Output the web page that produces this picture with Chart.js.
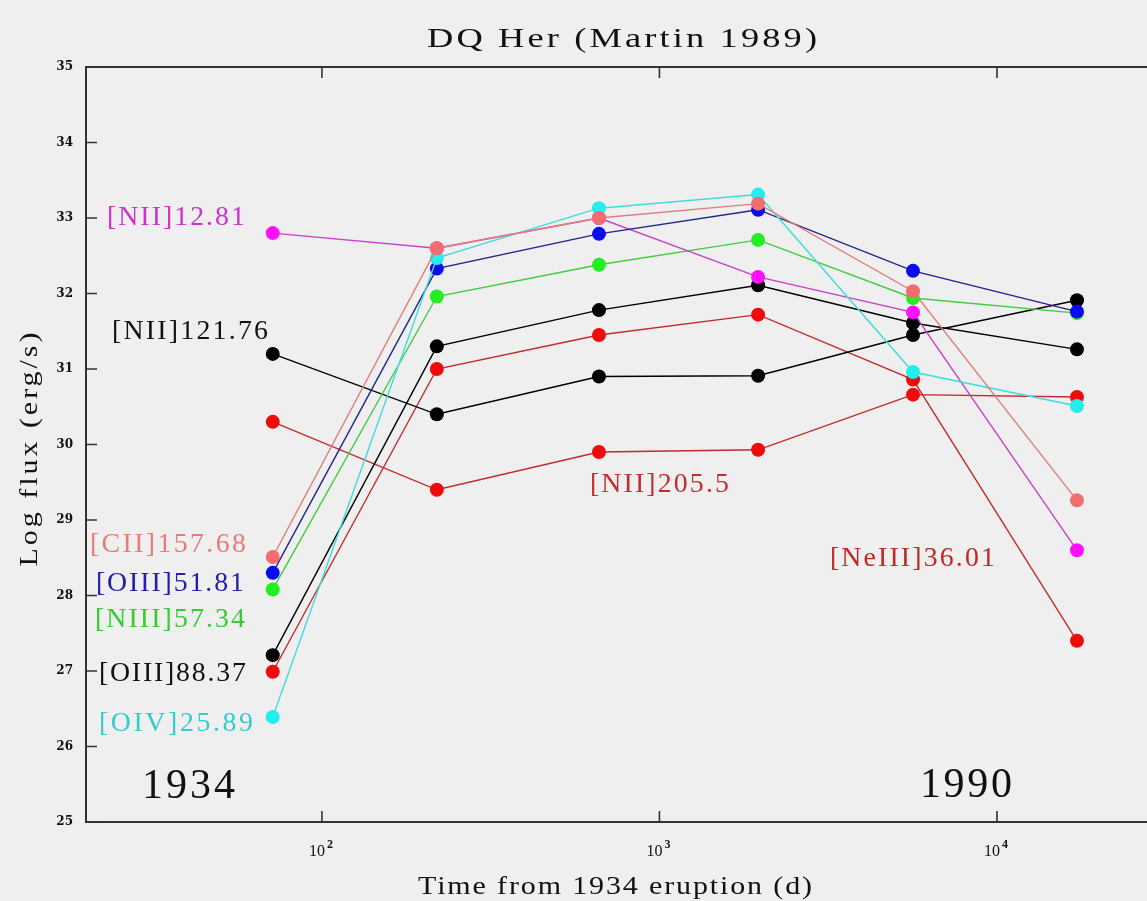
<!DOCTYPE html>
<html>
<head>
<meta charset="utf-8">
<script src="https://cdn.jsdelivr.net/npm/chart.js@4.4.1/dist/chart.umd.min.js"></script>
<style>
  html, body { margin: 0; padding: 0; background: #efefef; overflow: hidden; }
  #wrap { width: 1165px; height: 901px; }
</style>
</head>
<body>
<div id="wrap"><canvas id="fluxChart"></canvas></div>
<script>
// days after the 1934 eruption
const days = [71.5, 219, 662, 1960, 5640, 17260];

// log flux (erg/s) for each line
const cii15768 = [28.51, 32.60, 33.00, 33.19, 32.03, 29.26];
const oiv2589 = [26.39, 32.47, 33.13, 33.31, 30.96, 30.51];
const oiii5181 = [28.30, 32.33, 32.79, 33.11, 32.30, 31.76];
const nii1281 = [32.80, 32.60, 33.00, 32.22, 31.75, 28.60];
const niii5734 = [28.08, 31.96, 32.38, 32.71, 31.94, 31.74];
const oiii8837 = [27.21, 31.30, 31.78, 32.11, 31.61, 31.26];
const nii12176 = [31.20, 30.40, 30.90, 30.91, 31.45, 31.91];
const neiii3601 = [26.99, 31.00, 31.45, 31.72, 30.86, 27.40];
const nii2055 = [30.30, 29.40, 29.90, 29.93, 30.66, 30.63];

const xTicks = [100, 1000, 10000];
const yTicks = [25, 26, 27, 28, 29, 30, 31, 32, 33, 34, 35];

const series = [
  { name: '[CII]157.68', values: cii15768, line: '#e07c7c', dot: '#f26e6e' },
  { name: '[OIV]25.89', values: oiv2589, line: '#3fdcdc', dot: '#22eeee' },
  { name: '[OIII]51.81', values: oiii5181, line: '#23238c', dot: '#0a0aee' },
  { name: '[NII]12.81', values: nii1281, line: '#c840c8', dot: '#ff10ff' },
  { name: '[NIII]57.34', values: niii5734, line: '#40cc40', dot: '#22ee22' },
  { name: '[OIII]88.37', values: oiii8837, line: '#000000', dot: '#000000' },
  { name: '[NII]121.76', values: nii12176, line: '#000000', dot: '#000000' },
  { name: '[NeIII]36.01', values: neiii3601, line: '#c02c2c', dot: '#ee0b0b' },
  { name: '[NII]205.5', values: nii2055, line: '#c02c2c', dot: '#ee0b0b' }
];

// text notes placed in data units (days, log flux)
const notes = [
  { text: '[NII]12.81', x: 23.07, y: 32.91, w: 138, color: '#cc33cc' },
  { text: '[NII]121.76', x: 23.87, y: 31.40, w: 156, color: '#111111' },
  { text: '[CII]157.68', x: 20.54, y: 28.58, w: 156, color: '#e87a7a' },
  { text: '[OIII]51.81', x: 21.40, y: 28.06, w: 148, color: '#2020a8' },
  { text: '[NIII]57.34', x: 21.26, y: 27.58, w: 150, color: '#33cc33' },
  { text: '[OIII]88.37', x: 21.84, y: 26.87, w: 147, color: '#111111' },
  { text: '[OIV]25.89', x: 21.84, y: 26.21, w: 154, color: '#33cccc' },
  { text: '[NII]205.5', x: 622.3, y: 29.37, w: 139, color: '#c03030' },
  { text: '[NeIII]36.01', x: 3199, y: 28.39, w: 165, color: '#c02828' },
  { text: '1934', x: 29.29, y: 25.32, w: 93, color: '#111111', big: true },
  { text: '1990', x: 5913, y: 25.33, w: 92, color: '#111111', big: true }
];

const serif = '"Liberation Serif", "Times New Roman", serif';

// draws text so that it spans the given width, with optional horizontal stretch
function fitText(ctx, text, x, y, width, font, color, sx = 1) {
  ctx.save();
  ctx.font = font;
  ctx.letterSpacing = '0px';
  const natural = ctx.measureText(text).width;
  const gap = text.length > 1 ? (width / sx - natural) / (text.length - 1) : 0;
  ctx.letterSpacing = gap + 'px';
  ctx.fillStyle = color;
  ctx.textAlign = 'left';
  ctx.textBaseline = 'alphabetic';
  ctx.translate(x, y);
  ctx.scale(sx, 1);
  ctx.fillText(text, 0, 0);
  ctx.restore();
}

const supers = { 2: '2', 3: '3', 4: '4' };

const framePlugin = {
  id: 'frame',
  beforeDatasetsDraw(chart) {
    const { ctx, chartArea: a, scales: { x, y } } = chart;
    ctx.save();
    ctx.strokeStyle = '#333333';
    ctx.lineWidth = 2;
    ctx.strokeRect(a.left, a.top, a.right - a.left, a.bottom - a.top);
    ctx.lineWidth = 1.6;
    ctx.beginPath();
    yTicks.forEach(v => {
      const py = y.getPixelForValue(v);
      ctx.moveTo(a.left, py);
      ctx.lineTo(a.left + 11, py);
    });
    xTicks.forEach(v => {
      const px = x.getPixelForValue(v);
      ctx.moveTo(px, a.bottom);
      ctx.lineTo(px, a.bottom - 11);
      ctx.moveTo(px, a.top);
      ctx.lineTo(px, a.top + 11);
    });
    ctx.stroke();

    // x tick labels as 10 with a raised exponent
    ctx.fillStyle = '#111111';
    ctx.textBaseline = 'alphabetic';
    x.ticks.forEach(t => {
      const px = x.getPixelForValue(t.value);
      const e = supers[Math.round(Math.log10(t.value))];
      ctx.font = '16px ' + serif;
      ctx.textAlign = 'right';
      ctx.fillText('10', px + 3, a.bottom + 34);
      ctx.font = 'bold 12px ' + serif;
      ctx.textAlign = 'left';
      ctx.fillText(e, px + 5, a.bottom + 26);
    });
    ctx.restore();
  },
  afterDatasetsDraw(chart) {
    const { ctx, chartArea: a, scales: { x, y } } = chart;
    ctx.save();
    notes.forEach(n => {
      const font = n.big ? '42px ' + serif : '27px ' + serif;
      fitText(ctx, n.text, x.getPixelForValue(n.x), y.getPixelForValue(n.y), n.w, font, n.color, n.big ? 1 : 1.03);
    });
    // title and axis titles
    const mid = (a.left + a.right) / 2;
    fitText(ctx, 'DQ Her (Martin 1989)', mid - 195, 47, 390, '28px ' + serif, '#111111', 1.3);
    fitText(ctx, 'Time from 1934 eruption (d)', mid - 204, 894, 394, '25px ' + serif, '#111111', 1.2);
    ctx.translate(37, (a.top + a.bottom) / 2 + 5);
    ctx.rotate(-Math.PI / 2);
    fitText(ctx, 'Log flux (erg/s)', -117, 0, 234, '25px ' + serif, '#111111', 1.2);
    ctx.restore();
  }
};

new Chart(document.getElementById('fluxChart'), {
  type: 'line',
  data: {
    datasets: series.map(s => ({
      label: s.name,
      data: s.values.map((v, i) => ({ x: days[i], y: v })),
      borderColor: s.line,
      borderWidth: 1.4,
      backgroundColor: s.dot,
      pointBackgroundColor: s.dot,
      pointBorderColor: s.dot,
      pointBorderWidth: 0,
      pointRadius: 7,
      pointHoverRadius: 7,
      tension: 0,
      fill: false
    }))
  },
  options: {
    responsive: true,
    maintainAspectRatio: false,
    animation: false,
    events: [],
    layout: { padding: { top: 67, right: 7, left: 0, bottom: 0 } },
    plugins: {
      legend: { display: false },
      tooltip: { enabled: false },
      title: { display: false }
    },
    scales: {
      x: {
        type: 'logarithmic',
        min: 20,
        max: 30000,
        afterBuildTicks: scale => { scale.ticks = xTicks.map(v => ({ value: v })); },
        afterFit: scale => { scale.height = 79; },
        grid: { display: false, drawTicks: false },
        border: { display: false },
        ticks: { display: false, autoSkip: false, maxRotation: 0 }
      },
      y: {
        type: 'linear',
        min: 25,
        max: 35,
        afterFit: scale => { scale.width = 86; },
        grid: { display: false, drawTicks: false },
        border: { display: false },
        ticks: {
          stepSize: 1,
          padding: 13,
          color: '#111111',
          font: { family: '"DejaVu Serif", serif', size: 12, weight: 'bold' }
        }
      }
    }
  },
  plugins: [framePlugin]
});
</script>
</body>
</html>
